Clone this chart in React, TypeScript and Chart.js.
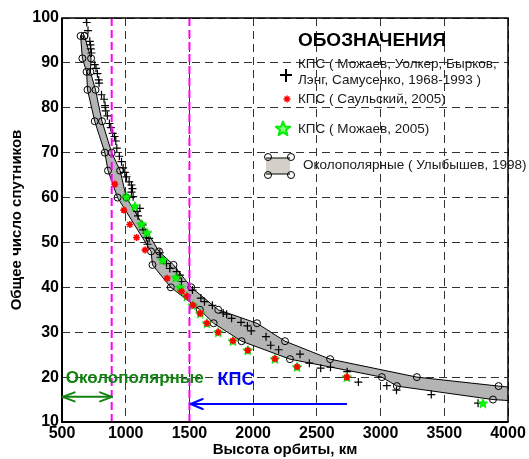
import React, { useEffect, useRef } from "react";
import { Chart, registerables } from "chart.js";

Chart.register(...registerables);

const FONT = '"Liberation Sans", Arial, Helvetica, sans-serif';

// Axis ranges / ticks
const xRange = [500, 4000];
const yRange = [10, 100];
const xStep = 500;
const yStep = 10;

// Region boundaries (magenta dashed lines)
const boundaryX = [890, 1500];

// Band (Околополярные, Улыбышев 1998): upper/right edge and lower/left edge
const upperX = [676, 728, 723, 763, 814, 890, 956, 1005, 1261, 1375, 1514, 1726, 2030, 2250, 2604, 3285, 3926, 4100];
const upperY = [96, 91, 88, 84, 77, 70, 66, 60, 48, 45, 40, 35, 32, 28, 24, 20, 18, 17.5];
const lowerX = [646, 660, 693, 700, 757, 836, 861, 936, 1199, 1210, 1354, 1582, 1690, 1909, 2289, 3010, 3128, 3882, 4100];
const lowerY = [96, 91, 88, 84, 77, 70, 66, 60, 48, 45, 40, 35, 32, 28, 24, 20, 18, 15, 14.6];

// КПС (Можаев, Уолкер, Бырков, Лэнг, Самусенко, 1968-1993) — plus markers
const kpsX = [691, 694, 704, 718, 723, 726, 731, 757, 767, 778, 788, 791, 810, 830, 838, 843, 856, 872, 883, 898, 912, 922, 930, 950, 967, 980, 993, 1006, 1027, 1045, 1053, 1045, 1058, 1089, 1097, 1111, 1132, 1137, 1163, 1171, 1184, 1268, 1273, 1320, 1346, 1399, 1425, 1438, 1524, 1590, 1618, 1680, 1765, 1792, 1831, 1905, 1955, 1985, 2101, 2138, 2200, 2368, 2441, 2530, 2607, 2738, 2826, 3049, 3125, 3398, 3765];
const kpsY = [100, 99, 97.2, 94.8, 94, 93.1, 92.2, 89.6, 88.8, 87.6, 86.2, 85.5, 82.9, 81.9, 80.5, 79.3, 78.2, 76.5, 75.6, 74.3, 73.6, 72.6, 71.0, 69.2, 68.0, 66.6, 65.6, 64.6, 63.5, 62.8, 62.0, 61.2, 60.2, 56.9, 55.9, 57.6, 53.9, 52.8, 51.1, 49.6, 50.9, 47.7, 46.7, 45.3, 44.2, 43.5, 42.7, 41.3, 39.4, 37.6, 36.8, 36.0, 34.3, 34.0, 33.1, 32.2, 31.4, 30.3, 29.0, 27.1, 26.1, 25.1, 23.1, 22.0, 22.2, 21.2, 18.9, 18.1, 17.1, 16.1, 14.2];

// КПС (Саульский, 2005) — red asterisks
const saulX = [914, 985, 1032, 1085, 1152, 1325, 1438, 1480, 1527, 1585, 1637, 1726, 1841, 1958, 2171, 2345, 2735];
const saulY = [63, 57.2, 54, 51.1, 48.3, 42, 39.1, 38, 36, 34.2, 32, 30, 28.1, 26, 24.1, 22.3, 20];

// КПС (Можаев, 2005) — green stars
const mozX = [1006, 1071, 1124, 1168, 1289, 1393, 1425, 1480, 1527, 1585, 1637, 1726, 1841, 1958, 2171, 2345, 2735, 3803];
const mozY = [60.2, 58.1, 54.1, 52.2, 46.1, 42.2, 40.0, 38, 36, 34.2, 32, 30, 28.1, 26, 24.1, 22.3, 20, 14.2];

// Annotation arrows (data units)
const greenArrowX = [505, 893];
const greenArrowY = 15.6;
const blueArrowX = [1510, 2730];
const blueArrowY = 14.0;

const zip = (xs: number[], ys: number[]) => xs.map((x, i) => ({ x, y: ys[i] }));

function makePentagram(size: number, fill: string, stroke: string) {
  const c = document.createElement("canvas");
  c.width = size;
  c.height = size;
  const g = c.getContext("2d")!;
  const cx = size / 2, cy = size / 2 + 0.5;
  const R = size / 2 - 1, r = R * 0.42;
  g.beginPath();
  for (let i = 0; i < 10; i++) {
    const a = -Math.PI / 2 + (i * Math.PI) / 5;
    const rad = i % 2 ? r : R;
    g.lineTo(cx + rad * Math.cos(a), cy + rad * Math.sin(a));
  }
  g.closePath();
  g.fillStyle = fill;
  g.fill();
  g.strokeStyle = stroke;
  g.lineWidth = 1;
  g.stroke();
  return c;
}

function drawPentagram(ctx: CanvasRenderingContext2D, cx: number, cy: number, R: number, fill: string, stroke: string, lw: number) {
  const r = R * 0.42;
  ctx.beginPath();
  for (let i = 0; i < 10; i++) {
    const a = -Math.PI / 2 + (i * Math.PI) / 5;
    const rad = i % 2 ? r : R;
    ctx.lineTo(cx + rad * Math.cos(a), cy + rad * Math.sin(a));
  }
  ctx.closePath();
  ctx.fillStyle = fill;
  ctx.fill();
  ctx.strokeStyle = stroke;
  ctx.lineWidth = lw;
  ctx.stroke();
}

function drawAsterisk(ctx: CanvasRenderingContext2D, cx: number, cy: number, r: number, color: string, lw: number) {
  ctx.strokeStyle = color;
  ctx.lineWidth = lw;
  ctx.beginPath();
  ctx.moveTo(cx - r, cy); ctx.lineTo(cx + r, cy);
  ctx.moveTo(cx, cy - r); ctx.lineTo(cx, cy + r);
  const d = r * 0.7071;
  ctx.moveTo(cx - d, cy - d); ctx.lineTo(cx + d, cy + d);
  ctx.moveTo(cx - d, cy + d); ctx.lineTo(cx + d, cy - d);
  ctx.stroke();
}

function chevron(ctx: CanvasRenderingContext2D, tipX: number, y: number, dir: number, len: number, half: number) {
  ctx.beginPath();
  ctx.moveTo(tipX + dir * len, y - half);
  ctx.lineTo(tipX, y);
  ctx.lineTo(tipX + dir * len, y + half);
  ctx.stroke();
}

const overlayPlugin = {
  id: "overlay",
  afterDraw(chart: any) {
    const ctx: CanvasRenderingContext2D = chart.ctx;
    const xs = chart.scales.x;
    const ys = chart.scales.y;
    const ca = chart.chartArea;
    ctx.save();

    // frame
    ctx.strokeStyle = "#000";
    ctx.lineWidth = 1.5;
    ctx.strokeRect(ca.left, ca.top, ca.right - ca.left, ca.bottom - ca.top);
    ctx.lineWidth = 2;
    ctx.beginPath();
    ctx.moveTo(ca.left, ca.top);
    ctx.lineTo(ca.left, ca.bottom);
    ctx.lineTo(ca.right, ca.bottom);
    ctx.stroke();

    // arrows
    ctx.lineCap = "round";
    ctx.lineJoin = "round";
    ctx.strokeStyle = "#128212";
    ctx.lineWidth = 2;
    const gx1 = xs.getPixelForValue(greenArrowX[0]);
    const gx2 = xs.getPixelForValue(greenArrowX[1]);
    const gy = ys.getPixelForValue(greenArrowY);
    ctx.beginPath();
    ctx.moveTo(gx1, gy);
    ctx.lineTo(gx2, gy);
    ctx.stroke();
    chevron(ctx, gx1, gy, 1, 12, 4.5);
    chevron(ctx, gx2, gy, -1, 12, 4.5);

    ctx.strokeStyle = "#0000ff";
    const bx1 = xs.getPixelForValue(blueArrowX[0]);
    const bx2 = xs.getPixelForValue(blueArrowX[1]);
    const by = ys.getPixelForValue(blueArrowY);
    ctx.beginPath();
    ctx.moveTo(bx1, by);
    ctx.lineTo(bx2, by);
    ctx.stroke();
    chevron(ctx, bx1, by, 1, 12, 5);

    // region labels
    ctx.textBaseline = "middle";
    ctx.textAlign = "left";
    ctx.font = `bold 17px ${FONT}`;
    ctx.fillStyle = "#128212";
    ctx.fillText("Околополярные", xs.getPixelForValue(530), ys.getPixelForValue(19.8));
    ctx.font = `bold 18px ${FONT}`;
    ctx.fillStyle = "#0000ff";
    ctx.fillText("КПС", xs.getPixelForValue(1720), ys.getPixelForValue(19.4));

    // legend
    ctx.fillStyle = "#000";
    ctx.textAlign = "center";
    ctx.font = `bold 19px ${FONT}`;
    ctx.fillText("ОБОЗНАЧЕНИЯ", 372, 41);

    ctx.textAlign = "left";
    ctx.font = `13.5px ${FONT}`;
    ctx.fillStyle = "#1a1a1a";
    ctx.fillText("КПС ( Можаев, Уолкер, Бырков,", 298, 64);
    ctx.fillText("Лэнг, Самусенко, 1968-1993 )", 298, 80);
    ctx.fillText("КПС ( Саульский, 2005)", 298, 99);
    ctx.fillText("КПС ( Можаев, 2005)", 298, 129);
    ctx.fillText("Околополярные ( Улыбышев, 1998)", 303, 165);

    // legend markers
    ctx.lineCap = "butt";
    ctx.strokeStyle = "#000";
    ctx.lineWidth = 2;
    ctx.beginPath();
    ctx.moveTo(280, 75); ctx.lineTo(292, 75);
    ctx.moveTo(286, 69); ctx.lineTo(286, 82);
    ctx.stroke();

    drawAsterisk(ctx, 287, 99, 3.5, "#ff0000", 1.4);
    drawPentagram(ctx, 283, 129, 7.5, "#7dff7d", "#00ee00", 2);

    ctx.fillStyle = "#d4d0c8";
    ctx.fillRect(266, 158, 24, 16);
    ctx.strokeStyle = "#000";
    ctx.lineWidth = 1;
    ctx.beginPath();
    ctx.moveTo(266, 158); ctx.lineTo(290, 158);
    ctx.moveTo(266, 174); ctx.lineTo(290, 174);
    ctx.stroke();
    for (const [cx, cy] of [[268, 157], [291, 157], [268, 175], [291, 175]]) {
      ctx.beginPath();
      ctx.arc(cx, cy, 3.5, 0, Math.PI * 2);
      ctx.stroke();
    }
    ctx.restore();
  },
};

export default function App() {
  const ref = useRef<HTMLCanvasElement>(null);

  useEffect(() => {
    const greenStar = makePentagram(12, "#00ff00", "#00dd00");
    const polygon = [
      ...zip(upperX, upperY),
      ...zip(lowerX, lowerY).reverse(),
      { x: upperX[0], y: upperY[0] },
    ];

    const chart = new Chart(ref.current!, {
      type: "scatter",
      data: {
        datasets: [
          ...boundaryX.map((bx) => ({
            data: [{ x: bx, y: yRange[0] }, { x: bx, y: yRange[1] }],
            showLine: true,
            borderColor: "#ff00ff",
            borderWidth: 2,
            borderDash: [8, 4],
            pointRadius: 0,
            fill: false,
          })),
          {
            data: zip(saulX, saulY),
            pointStyle: "star",
            pointRadius: 3.5,
            borderColor: "#ff0000",
            backgroundColor: "#ff0000",
            borderWidth: 1.6,
          },
          {
            data: zip(mozX, mozY),
            pointStyle: greenStar,
            pointRadius: 6,
            borderColor: "#00ff00",
            backgroundColor: "#00ff00",
          },
          {
            data: zip(kpsX, kpsY),
            pointStyle: "cross",
            pointRadius: 4,
            borderColor: "#000",
            backgroundColor: "#000",
            borderWidth: 1.2,
          },
          {
            data: polygon,
            showLine: true,
            fill: "shape",
            backgroundColor: "#b4b4b4",
            borderColor: "#000",
            borderWidth: 1,
            pointStyle: "circle",
            pointRadius: (c: any) => (c.raw && c.raw.x > xRange[1] ? 0 : 3.5),
            pointBorderColor: "#000",
            pointBackgroundColor: "rgba(0,0,0,0)",
            pointBorderWidth: 1,
            tension: 0,
          },
        ] as any,
      },
      options: {
        responsive: false,
        animation: false,
        layout: { padding: { top: 18, right: 21, left: 0, bottom: 0 } },
        plugins: {
          legend: { display: false },
          tooltip: { enabled: false },
        },
        scales: {
          x: {
            type: "linear",
            min: xRange[0],
            max: xRange[1],
            ticks: {
              stepSize: xStep,
              color: "#000",
              font: { family: FONT, size: 16, weight: "bold" },
              padding: 2,
              maxRotation: 0,
              autoSkip: false,
              callback: (v: any) => String(v),
            },
            grid: { color: "#333", lineWidth: 1, drawTicks: false },
            border: { display: false, dash: [8, 5] },
            title: {
              display: true,
              text: "Высота орбиты, км",
              color: "#000",
              font: { family: FONT, size: 15, weight: "bold" },
              padding: { top: 0, bottom: 0 },
            },
            afterFit: (s: any) => {
              s.height = 37;
            },
          },
          y: {
            type: "linear",
            min: yRange[0],
            max: yRange[1],
            ticks: {
              stepSize: yStep,
              color: "#000",
              font: { family: FONT, size: 16, weight: "bold" },
              padding: 3,
              callback: (v: any) => String(v),
            },
            grid: { color: "#333", lineWidth: 1, drawTicks: false },
            border: { display: false, dash: [8, 5] },
            title: {
              display: true,
              text: "Общее число спутников",
              color: "#000",
              font: { family: FONT, size: 15, weight: "bold" },
              padding: { top: 8, bottom: 0 },
            },
            afterFit: (s: any) => {
              s.width = 62;
            },
          },
        },
      } as any,
      plugins: [overlayPlugin],
    });
    return () => chart.destroy();
  }, []);

  return (
    <div style={{ position: "fixed", left: 0, top: 0, width: 529, height: 459, background: "#fff" }}>
      <canvas ref={ref} width={529} height={459} style={{ display: "block", width: 529, height: 459 }} />
    </div>
  );
}
